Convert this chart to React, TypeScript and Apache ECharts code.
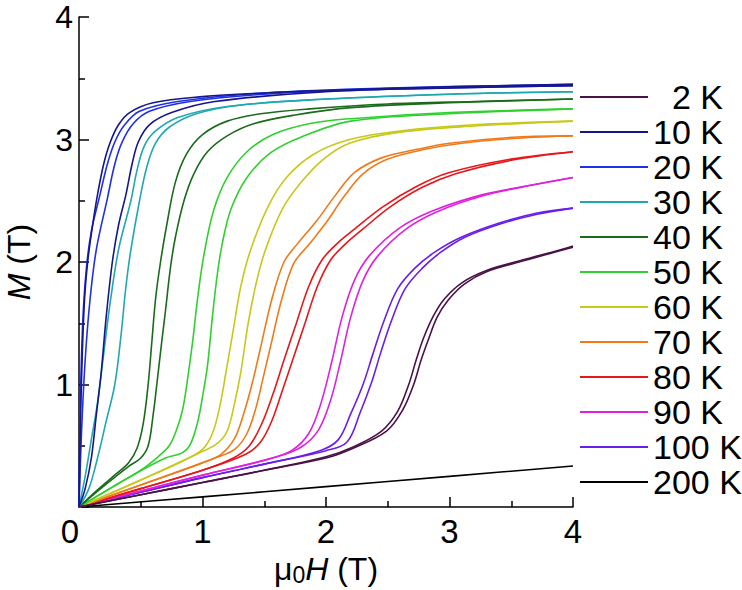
import React, { useEffect, useRef } from "react";
import * as echarts from "echarts";

// Temperatures (legend order) and colours
const temps = ["2 K", "10 K", "20 K", "30 K", "40 K", "50 K", "60 K", "70 K", "80 K", "90 K", "100 K", "200 K"];
const tempColors = ["#4a1248", "#16168c", "#1f30e6", "#1fa8b0", "#1a6b1a", "#2ed12e", "#c8c81a", "#f07a1a", "#e8161a", "#e020e0", "#6a1ee8", "#000000"];

// M (T) vs mu0H (T): two field-sweep branches per temperature, [H, M]
const t2a = [[0,0],[0.5,0.1],[1,0.2],[1.5,0.3],[2,0.41],[2.22,0.49],[2.45,0.62],[2.58,0.78],[2.67,1.0],[2.73,1.2],[2.79,1.38],[2.87,1.56],[2.96,1.7],[3.1,1.83],[3.3,1.93],[3.57,2.01],[3.9,2.1],[4,2.13]];
const t2b = [[0,0],[0.5,0.1],[1,0.2],[1.5,0.3],[2,0.4],[2.22,0.48],[2.49,0.62],[2.62,0.79],[2.71,1.0],[2.77,1.2],[2.83,1.37],[2.9,1.55],[2.99,1.69],[3.12,1.82],[3.3,1.92],[3.6,2.01],[4,2.12]];
const t10a = [[0,0],[0.01,0.6],[0.025,1.2],[0.045,1.7],[0.07,2.0],[0.11,2.3],[0.15,2.55],[0.2,2.8],[0.25,2.97],[0.32,3.12],[0.41,3.22],[0.6,3.3],[1,3.35],[1.5,3.38],[2,3.4],[3,3.43],[4,3.45]];
const t10b = [[0,0],[0.05,0.15],[0.1,0.4],[0.14,0.75],[0.18,1.1],[0.22,1.55],[0.27,2.0],[0.32,2.3],[0.38,2.55],[0.43,2.8],[0.48,2.98],[0.57,3.12],[0.75,3.22],[1.1,3.31],[2,3.39],[3,3.42],[4,3.44]];
const t20a = [[0,0],[0.01,0.8],[0.03,1.5],[0.06,1.95],[0.1,2.25],[0.17,2.55],[0.23,2.8],[0.29,2.98],[0.37,3.12],[0.49,3.23],[0.8,3.31],[1.5,3.38],[2.5,3.42],[4,3.45]];
const t20b = [[0,0],[0.02,0.6],[0.05,1.2],[0.09,1.7],[0.14,2.1],[0.23,2.52],[0.29,2.8],[0.35,2.98],[0.44,3.13],[0.57,3.23],[0.9,3.31],[1.5,3.37],[2.5,3.41],[4,3.44]];
const t30a = [[0,0],[0.05,0.25],[0.1,0.55],[0.15,0.85],[0.2,1.25],[0.25,1.65],[0.32,2.1],[0.42,2.5],[0.47,2.75],[0.53,2.95],[0.62,3.07],[0.8,3.18],[1.2,3.27],[2,3.33],[3,3.37],[4,3.39]];
const t30b = [[0,0],[0.08,0.15],[0.15,0.4],[0.22,0.7],[0.29,1.0],[0.34,1.4],[0.38,1.8],[0.42,2.1],[0.49,2.5],[0.55,2.78],[0.62,2.97],[0.73,3.1],[0.95,3.21],[1.3,3.28],[2,3.33],[3,3.37],[4,3.39]];
const t40a = [[0,0],[0.15,0.14],[0.3,0.27],[0.4,0.36],[0.47,0.48],[0.52,0.68],[0.56,1.0],[0.59,1.35],[0.62,1.7],[0.66,2.0],[0.71,2.3],[0.78,2.65],[0.87,2.88],[1.0,3.04],[1.2,3.15],[1.47,3.21],[1.87,3.25],[2.5,3.29],[3.2,3.31],[4,3.33]];
const t40b = [[0,0],[0.2,0.17],[0.4,0.33],[0.5,0.4],[0.56,0.5],[0.6,0.75],[0.63,1.0],[0.67,1.35],[0.7,1.6],[0.74,1.95],[0.78,2.2],[0.85,2.5],[0.93,2.72],[1.04,2.9],[1.2,3.03],[1.42,3.13],[1.75,3.2],[2.2,3.26],[3,3.3],[4,3.33]];
const t50a = [[0,0],[0.3,0.18],[0.5,0.3],[0.64,0.41],[0.73,0.5],[0.79,0.63],[0.84,0.8],[0.88,1.05],[0.92,1.35],[0.96,1.7],[1.01,2.05],[1.09,2.42],[1.2,2.69],[1.36,2.9],[1.57,3.04],[1.87,3.13],[2.2,3.17],[3,3.22],[4,3.25]];
const t50b = [[0,0],[0.4,0.24],[0.7,0.4],[0.83,0.44],[0.9,0.51],[0.96,0.69],[1.0,0.9],[1.04,1.15],[1.08,1.55],[1.12,1.9],[1.16,2.15],[1.23,2.43],[1.36,2.69],[1.55,2.89],[1.8,3.02],[2.2,3.15],[3,3.21],[4,3.25]];
const t60a = [[0,0],[0.5,0.22],[0.85,0.38],[1.0,0.47],[1.08,0.6],[1.14,0.82],[1.19,1.1],[1.25,1.45],[1.31,1.8],[1.39,2.1],[1.53,2.45],[1.68,2.69],[1.9,2.88],[2.19,3.0],[2.6,3.07],[3.2,3.12],[4,3.15]];
const t60b = [[0,0],[0.5,0.22],[0.95,0.43],[1.12,0.52],[1.2,0.62],[1.26,0.85],[1.31,1.1],[1.37,1.5],[1.44,1.85],[1.51,2.1],[1.64,2.42],[1.79,2.64],[1.98,2.84],[2.19,2.97],[2.6,3.06],[3.2,3.11],[4,3.15]];
const t70a = [[0,0],[0.5,0.18],[1.0,0.36],[1.15,0.43],[1.26,0.56],[1.33,0.75],[1.4,1.0],[1.47,1.3],[1.56,1.69],[1.66,2.0],[1.77,2.15],[1.92,2.33],[2.08,2.55],[2.23,2.73],[2.45,2.85],[2.74,2.92],[3.0,2.97],[3.55,3.02],[4,3.03]];
const t70b = [[0,0],[0.5,0.18],[1.1,0.4],[1.26,0.47],[1.36,0.6],[1.43,0.8],[1.49,1.05],[1.56,1.35],[1.64,1.69],[1.74,1.99],[1.86,2.14],[2.0,2.32],[2.15,2.54],[2.3,2.72],[2.5,2.84],[2.8,2.92],[3.1,2.97],[3.55,3.01],[4,3.03]];
const t80a = [[0,0],[0.5,0.15],[1.0,0.3],[1.25,0.4],[1.38,0.5],[1.48,0.68],[1.57,0.92],[1.66,1.2],[1.76,1.5],[1.86,1.8],[1.97,2.02],[2.1,2.16],[2.22,2.26],[2.46,2.45],[2.74,2.62],[3.0,2.73],[3.5,2.84],[4,2.9]];
const t80b = [[0,0],[0.5,0.15],[1.0,0.3],[1.35,0.43],[1.47,0.53],[1.56,0.7],[1.64,0.93],[1.73,1.2],[1.83,1.5],[1.93,1.8],[2.04,2.02],[2.16,2.15],[2.3,2.27],[2.52,2.45],[2.78,2.61],[3.05,2.72],[3.5,2.83],[4,2.9]];
const t90a = [[0,0],[0.5,0.13],[1.0,0.26],[1.5,0.38],[1.72,0.46],[1.86,0.6],[1.96,0.85],[2.05,1.2],[2.13,1.55],[2.23,1.85],[2.35,2.05],[2.6,2.28],[2.87,2.42],[3.27,2.55],[3.68,2.63],[4,2.69]];
const t90b = [[0,0],[0.5,0.13],[1.0,0.26],[1.6,0.41],[1.8,0.49],[1.94,0.63],[2.04,0.88],[2.12,1.2],[2.2,1.55],[2.3,1.85],[2.42,2.05],[2.65,2.27],[2.9,2.41],[3.27,2.54],[3.68,2.63],[4,2.69]];
const t100a = [[0,0],[0.5,0.12],[1.0,0.24],[1.5,0.35],[1.95,0.46],[2.1,0.55],[2.2,0.76],[2.3,1.0],[2.38,1.25],[2.47,1.52],[2.58,1.78],[2.72,1.95],[2.88,2.08],[3.09,2.2],[3.41,2.32],[3.71,2.4],[4,2.44]];
const t100b = [[0,0],[0.5,0.12],[1.0,0.24],[1.5,0.35],[2.0,0.46],[2.17,0.53],[2.28,0.78],[2.37,1.02],[2.44,1.25],[2.53,1.52],[2.64,1.78],[2.78,1.95],[2.93,2.08],[3.12,2.2],[3.41,2.31],[3.71,2.39],[4,2.44]];
const t200 = [[0,0],[1,0.083],[2,0.166],[3,0.25],[4,0.335]];

const branches: [string, number[][]][] = [
  ["200 K", t200],
  ["100 K", t100a], ["100 K", t100b],
  ["90 K", t90a], ["90 K", t90b],
  ["80 K", t80a], ["80 K", t80b],
  ["70 K", t70a], ["70 K", t70b],
  ["60 K", t60a], ["60 K", t60b],
  ["50 K", t50a], ["50 K", t50b],
  ["40 K", t40a], ["40 K", t40b],
  ["30 K", t30a], ["30 K", t30b],
  ["20 K", t20a], ["20 K", t20b],
  ["10 K", t10a], ["10 K", t10b],
  ["2 K", t2a], ["2 K", t2b],
];

const FONT = "'Liberation Sans', Arial, Helvetica, sans-serif";

export default function App() {
  const ref = useRef<HTMLDivElement>(null);
  useEffect(() => {
    document.body.style.margin = "0";
    if (!ref.current) return;
    const chart = echarts.init(ref.current, undefined, { renderer: "svg" });
    const colorOf = (n: string) => tempColors[temps.indexOf(n)];
    const series = branches.map(([name, data]) => ({
      type: "line",
      name,
      data,
      symbol: "none",
      showSymbol: false,
      smooth: 0.35,
      lineStyle: { color: colorOf(name), width: 1.6 },
      itemStyle: { color: colorOf(name) },
    }));
    const axisCommon = {
      type: "value",
      min: 0,
      max: 4,
      interval: 1,
      axisLine: { show: true, lineStyle: { color: "#000", width: 1.5 } },
      axisTick: { show: true, inside: true, length: 10, lineStyle: { color: "#000", width: 1.5 } },
      minorTick: { show: true, splitNumber: 2, length: 6, lineStyle: { color: "#000", width: 1.5 } },
      splitLine: { show: false },
      minorSplitLine: { show: false },
    };
    chart.setOption({
      animation: false,
      grid: { left: 79, right: 169, top: 17, bottom: 83, containLabel: false, outerBoundsMode: "none" },
      xAxis: {
        ...axisCommon,
        axisLabel: {
          fontSize: 33,
          color: "#000",
          fontFamily: FONT,
          margin: 8,
          formatter: (v: number) => (v === 0 ? "{z|0}" : String(v)),
          rich: { z: { fontSize: 33, color: "#000", fontFamily: FONT, padding: [0, 18, 0, 0] } },
        },
        name: "{n|μ}{s|0}{i|H}{n| (T)}",
        nameLocation: "middle",
        nameGap: 44,
        nameTextStyle: {
          rich: {
            n: { fontSize: 32, color: "#000", fontFamily: FONT },
            s: { fontSize: 23, color: "#000", fontFamily: FONT, verticalAlign: "bottom", padding: [12, 0, 0, 0] },
            i: { fontSize: 32, color: "#000", fontFamily: FONT, fontStyle: "italic" },
          },
        },
      },
      yAxis: {
        ...axisCommon,
        axisLabel: { fontSize: 32, color: "#000", fontFamily: FONT, margin: 6, showMinLabel: false },
        name: "{i|M}{n| (T)}",
        nameLocation: "middle",
        nameGap: 44,
        nameTextStyle: {
          rich: {
            n: { fontSize: 32, color: "#000", fontFamily: FONT },
            i: { fontSize: 32, color: "#000", fontFamily: FONT, fontStyle: "italic" },
          },
        },
      },
      legend: {
        data: temps,
        orient: "vertical",
        left: 580,
        top: 80,
        padding: 0,
        icon: "rect",
        itemWidth: 68,
        itemHeight: 2,
        itemGap: 1,
        selectedMode: false,
        textStyle: {
          fontSize: 34,
          color: "#000",
          fontFamily: FONT,
          rich: { r: { fontSize: 34, color: "#000", fontFamily: FONT, width: 70, align: "right" } },
        },
        formatter: (n: string) => (n === "2 K" ? "{r|2 K}" : n),
      },
      series,
    });
    return () => chart.dispose();
  }, []);
  return <div ref={ref} style={{ width: 742, height: 590 }} />;
}
